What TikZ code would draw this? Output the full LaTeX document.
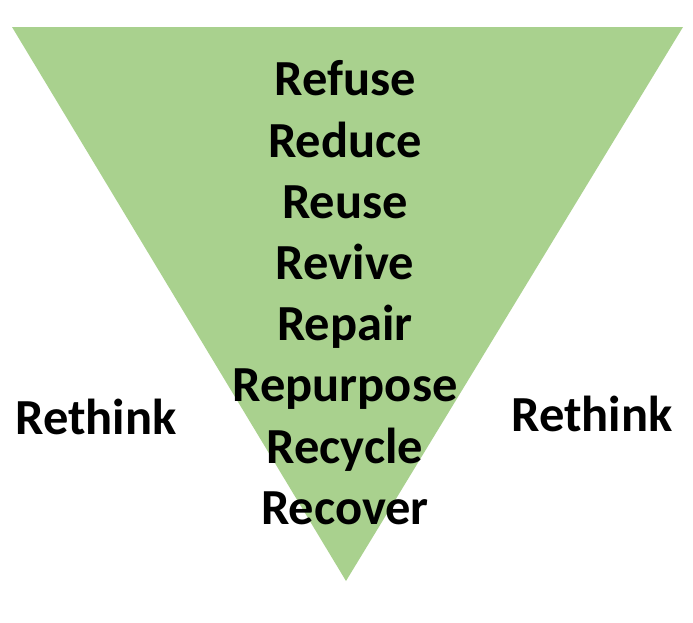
\documentclass[tikz,border=0pt]{standalone}
\usepackage{fontspec}
\setmainfont{Carlito}
\definecolor{leafgreen}{HTML}{A9D18E}
\tikzset{
  word/.style={anchor=base, inner sep=0pt, font=\fontsize{50.5}{60}\selectfont\bfseries}
}

\begin{document}
\begin{tikzpicture}[x=1pt,y=-1pt]
  \useasboundingbox (0,0) rectangle (693,622);
  \fill [leafgreen] (12,27) -- (683,27) -- (346,581) -- cycle;
  \node [word] (refuse) at (345,95) {Refuse};
  \node [word] (reduce) at (345,157) {Reduce};
  \node [word] (reuse) at (345,218) {Reuse};
  \node [word] (revive) at (345,279) {Revive};
  \node [word] (repair) at (345,340) {Repair};
  \node [word] (repurpose) at (345,401) {Repurpose};
  \node [word] (recycle) at (345,463) {Recycle};
  \node [word] (recover) at (345,524) {Recover};
  \node [word] (rethinkl) at (96,434) {Rethink};
  \node [word] (rethinkr) at (592,431) {Rethink};
\end{tikzpicture}
\end{document}
